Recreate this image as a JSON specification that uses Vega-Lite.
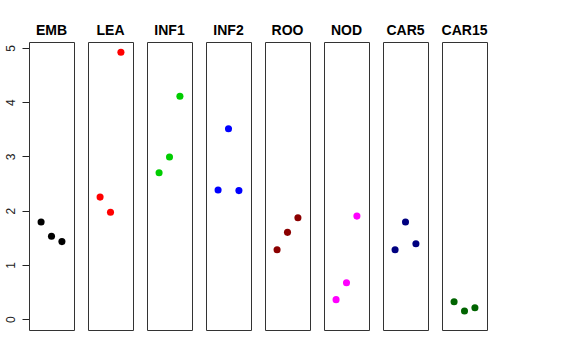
{
  "$schema": "https://vega.github.io/schema/vega-lite/v6.json",
  "background": "white",
  "padding": {"left": 4, "top": 24, "right": 5, "bottom": 5},
  "bounds": "flush",
  "data": {"values": [
    {"tissue": "EMB", "pos": 1, "value": 1.79},
    {"tissue": "EMB", "pos": 2, "value": 1.53},
    {"tissue": "EMB", "pos": 3, "value": 1.43},
    {"tissue": "LEA", "pos": 1, "value": 2.25},
    {"tissue": "LEA", "pos": 2, "value": 1.97},
    {"tissue": "LEA", "pos": 3, "value": 4.92},
    {"tissue": "INF1", "pos": 1, "value": 2.70},
    {"tissue": "INF1", "pos": 2, "value": 2.99},
    {"tissue": "INF1", "pos": 3, "value": 4.11},
    {"tissue": "INF2", "pos": 1, "value": 2.38},
    {"tissue": "INF2", "pos": 2, "value": 3.51},
    {"tissue": "INF2", "pos": 3, "value": 2.37},
    {"tissue": "ROO", "pos": 1, "value": 1.28},
    {"tissue": "ROO", "pos": 2, "value": 1.60},
    {"tissue": "ROO", "pos": 3, "value": 1.87},
    {"tissue": "NOD", "pos": 1, "value": 0.36},
    {"tissue": "NOD", "pos": 2, "value": 0.67},
    {"tissue": "NOD", "pos": 3, "value": 1.90},
    {"tissue": "CAR5", "pos": 1, "value": 1.28},
    {"tissue": "CAR5", "pos": 2, "value": 1.79},
    {"tissue": "CAR5", "pos": 3, "value": 1.39},
    {"tissue": "CAR15", "pos": 1, "value": 0.32},
    {"tissue": "CAR15", "pos": 2, "value": 0.15},
    {"tissue": "CAR15", "pos": 3, "value": 0.21}
  ]},
  "facet": {
    "column": {
      "field": "tissue",
      "type": "nominal",
      "sort": ["EMB", "LEA", "INF1", "INF2", "ROO", "NOD", "CAR5", "CAR15"],
      "header": {
        "title": null,
        "labelFont": "Liberation Sans",
        "labelFontWeight": "bold",
        "labelFontSize": 14,
        "labelColor": "black",
        "labelPadding": 4
      }
    }
  },
  "spacing": 14,
  "spec": {
    "width": 45,
    "height": 288,
    "mark": {"type": "point", "filled": true, "opacity": 1, "size": 50},
    "encoding": {
      "x": {
        "field": "pos",
        "type": "quantitative",
        "scale": {"domain": [-0.16, 4.16], "nice": false, "zero": false},
        "axis": null
      },
      "y": {
        "field": "value",
        "type": "quantitative",
        "scale": {"domain": [-0.2, 5.11], "nice": false, "zero": false},
        "axis": {
          "title": null,
          "values": [0, 1, 2, 3, 4, 5],
          "grid": false,
          "domain": false,
          "tickSize": 7,
          "tickColor": "#222",
          "labelAngle": -90,
          "labelAlign": "center",
          "labelBaseline": "bottom",
          "labelPadding": 5,
          "labelFont": "Liberation Sans",
          "labelFontSize": 12,
          "labelColor": "#222"
        }
      },
      "color": {
        "field": "tissue",
        "type": "nominal",
        "scale": {
          "domain": ["EMB", "LEA", "INF1", "INF2", "ROO", "NOD", "CAR5", "CAR15"],
          "range": ["#000000", "#FF0000", "#00CD00", "#0000FF", "#8B0000", "#FF00FF", "#000080", "#006400"]
        },
        "legend": null
      }
    }
  },
  "config": {
    "view": {"stroke": "#333333", "strokeWidth": 1}
  }
}
